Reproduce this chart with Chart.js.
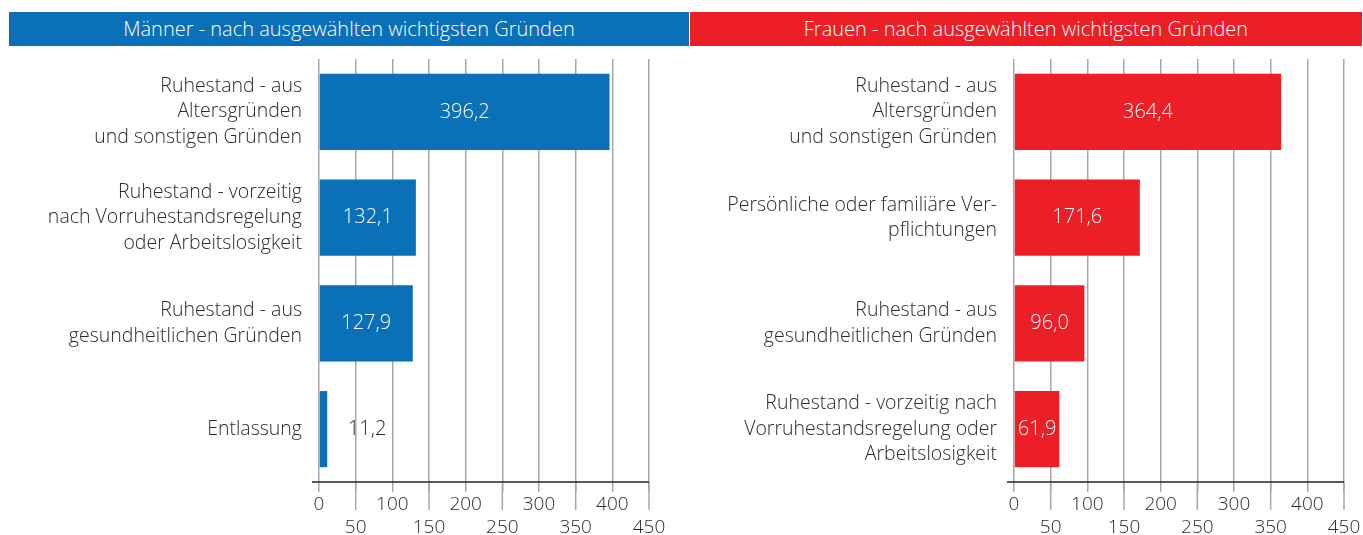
<!DOCTYPE html>
<html>
<head>
<meta charset="utf-8">
<script src="https://cdn.jsdelivr.net/npm/chart.js@4.4.1/dist/chart.umd.min.js"></script>
<style>
  body { margin: 0; background: #fff; font-family: "Open Sans", sans-serif; }
  #wrap { position: relative; width: 1363px; height: 535px; overflow: hidden; }
  .head { position: absolute; top: 12px; height: 34px; line-height: 34px; color: #fff; font-size: 20px; font-weight: 300; text-align: center; }
  #headM { left: 9px; width: 680px; background: #0a71b9; }
  #headF { left: 690px; width: 672px; background: #ec1f27; }
  canvas { position: absolute; top: 0; }
  #menChart { left: 0; }
  #womenChart { left: 690px; }
</style>
</head>
<body>
<div id="wrap">
  <canvas id="menChart" width="690" height="535"></canvas>
  <canvas id="womenChart" width="673" height="535"></canvas>
  <div class="head" id="headM">Männer - nach ausgewählten wichtigsten Gründen</div>
  <div class="head" id="headF">Frauen - nach ausgewählten wichtigsten Gründen</div>
</div>
<script>
// Data
const menLabels = [
  ["Ruhestand - aus", "Altersgründen", "und sonstigen Gründen"],
  ["Ruhestand - vorzeitig", "nach Vorruhestandsregelung", "oder Arbeitslosigkeit"],
  ["Ruhestand - aus", "gesundheitlichen Gründen"],
  "Entlassung"
];
const menValues = [396.2, 132.1, 127.9, 11.2];

const womenLabels = [
  ["Ruhestand - aus", "Altersgründen", "und sonstigen Gründen"],
  ["Persönliche oder familiäre Ver-", "pflichtungen"],
  ["Ruhestand - aus", "gesundheitlichen Gründen"],
  ["Ruhestand - vorzeitig nach", "Vorruhestandsregelung oder", "Arbeitslosigkeit"]
];
const womenValues = [364.4, 171.6, 96.0, 61.9];

const xMax = 450;
const xStep = 50;

const FONT = '"Open Sans", sans-serif';
const TEXT = "#2b2b2b";
const GRID = "#a8a8a8";

const fmt = v => v.toFixed(1).replace(".", ",");

// value labels inside / next to bars
const valueLabels = {
  id: "valueLabels",
  afterDatasetsDraw(chart) {
    const ctx = chart.ctx;
    const meta = chart.getDatasetMeta(0);
    const vals = chart.data.datasets[0].data;
    ctx.save();
    ctx.font = "300 20px " + FONT;
    ctx.textBaseline = "middle";
    ctx.textAlign = "center";
    meta.data.forEach((bar, i) => {
      const w = bar.x - bar.base;
      if (w > 30) {
        ctx.fillStyle = "#ffffff";
        ctx.fillText(fmt(vals[i]), (bar.x + bar.base) / 2, bar.y);
      } else {
        ctx.fillStyle = TEXT;
        ctx.fillText(fmt(vals[i]), bar.x + 40, bar.y);
      }
    });
    ctx.restore();
  }
};

// axis line + long ticks for the lower label row
const axisExtras = {
  id: "axisExtras",
  afterDraw(chart) {
    const ctx = chart.ctx;
    const x = chart.scales.x;
    const a = chart.chartArea;
    ctx.save();
    ctx.strokeStyle = GRID;
    ctx.lineWidth = 1.5;
    for (let v = xStep; v <= xMax; v += 2 * xStep) {
      const px = x.getPixelForValue(v);
      ctx.beginPath();
      ctx.moveTo(px, a.bottom);
      ctx.lineTo(px, a.bottom + 28);
      ctx.stroke();
    }
    ctx.strokeStyle = "#222";
    ctx.lineWidth = 1.5;
    ctx.beginPath();
    ctx.moveTo(a.left - 7, a.bottom);
    ctx.lineTo(a.right, a.bottom);
    ctx.stroke();
    ctx.restore();
  }
};

function makeChart(id, labels, values, color, yWidth, padRight) {
  const ctx = document.getElementById(id).getContext("2d");
  return new Chart(ctx, {
    type: "bar",
    data: {
      labels: labels,
      datasets: [{
        data: values,
        backgroundColor: color,
        borderWidth: 0,
        barPercentage: 0.72,
        categoryPercentage: 1
      }]
    },
    options: {
      indexAxis: "y",
      responsive: false,
      animation: false,
      devicePixelRatio: 1,
      layout: { padding: { top: 59, right: padRight, left: 0, bottom: 0 } },
      plugins: {
        legend: { display: false },
        tooltip: { enabled: false }
      },
      scales: {
        x: {
          min: 0,
          max: xMax,
          afterFit: s => { s.height = 53; },
          ticks: {
            stepSize: xStep,
            color: TEXT,
            padding: 1,
            autoSkip: false,
            maxRotation: 0,
            font: { family: FONT, size: 19, weight: 300, lineHeight: 1.2 },
            callback: v => (v % 100 === 0 ? String(v) : ["", String(v)])
          },
          grid: { color: GRID, lineWidth: 1.5, tickLength: 10, tickColor: GRID },
          border: { display: false }
        },
        y: {
          afterFit: s => { s.width = yWidth; },
          ticks: {
            color: TEXT,
            padding: 9,
            font: { family: FONT, size: 19.5, weight: 300, lineHeight: 1.3 }
          },
          grid: { display: false },
          border: { display: false }
        }
      }
    },
    plugins: [valueLabels, axisExtras]
  });
}

makeChart("menChart", menLabels, menValues, "#0a71b9", 319, 41);
makeChart("womenChart", womenLabels, womenValues, "#ec1f27", 324, 19);
</script>
</body>
</html>
